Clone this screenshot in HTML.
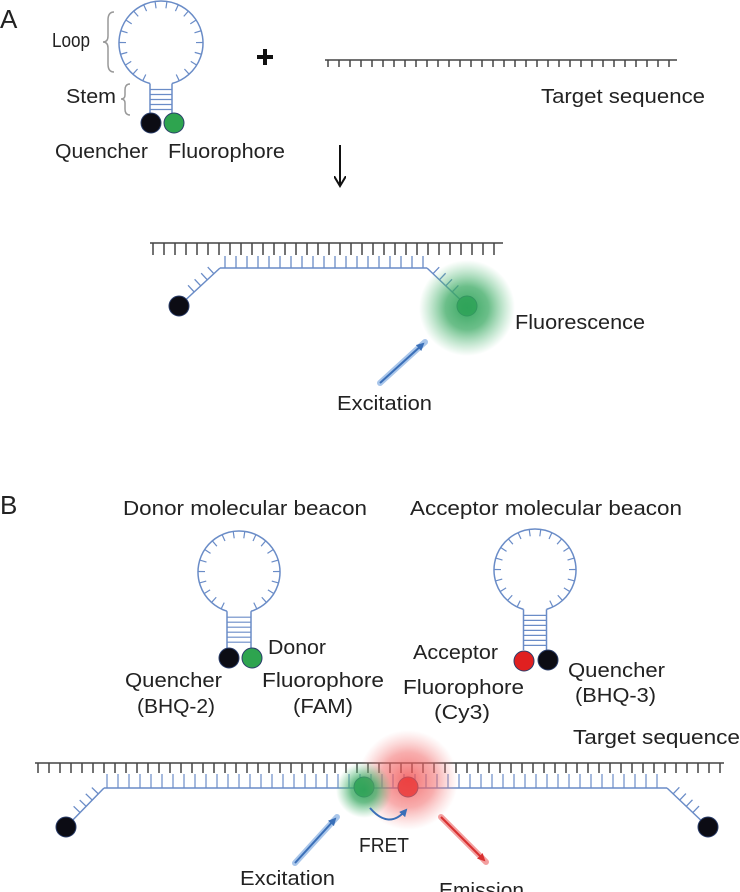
<!DOCTYPE html>
<html><head><meta charset="utf-8"><style>
html,body{margin:0;padding:0;background:#fff;}
svg{display:block;}
text{font-family:"Liberation Sans",sans-serif;fill:#222;font-size:20px;}
</style></head><body>
<svg id="s" width="740" height="892" viewBox="0 0 740 892" xmlns="http://www.w3.org/2000/svg">
<defs>
<radialGradient id="gg"><stop offset="0" stop-color="#2fa35a" stop-opacity="0.95"/><stop offset="0.45" stop-color="#3aa962" stop-opacity="0.75"/><stop offset="1" stop-color="#5cc07f" stop-opacity="0"/></radialGradient>
<radialGradient id="rg"><stop offset="0" stop-color="#f04a4a" stop-opacity="0.8"/><stop offset="0.55" stop-color="#f26a6a" stop-opacity="0.55"/><stop offset="1" stop-color="#f59090" stop-opacity="0"/></radialGradient>
<marker id="ab" markerWidth="8" markerHeight="8" refX="6" refY="4" orient="auto" markerUnits="userSpaceOnUse"><path d="M0,0 L8,4 L0,8 z" fill="#3a6fb8"/></marker>
<marker id="ar" markerWidth="8" markerHeight="8" refX="6" refY="4" orient="auto" markerUnits="userSpaceOnUse"><path d="M0,0 L8,4 L0,8 z" fill="#d83030"/></marker>
<marker id="ak" markerWidth="12" markerHeight="12" refX="10" refY="6" orient="auto" markerUnits="userSpaceOnUse"><path d="M0,0 L10,6 L0,12" fill="none" stroke="#111" stroke-width="2"/></marker>
</defs>
<g id="g"></g>

<circle cx="467" cy="308" r="48" fill="url(#gg)"/>
<circle cx="408" cy="780" r="50" fill="url(#rg)"/>
<circle cx="364" cy="790" r="28" fill="url(#gg)"/>

<text x="0" y="28" style="font-size:26px">A</text>
<text x="52" y="47" textLength="38" lengthAdjust="spacingAndGlyphs">Loop</text>
<text x="66" y="103" textLength="50" lengthAdjust="spacingAndGlyphs">Stem</text>
<path d="M114,12 Q108,12 108,20 L108,36 Q108,42 103,42 Q108,42 108,48 L108,64 Q108,72 114,72" fill="none" stroke="#999" stroke-width="1.5"/>
<path d="M130,84 Q125,84 125,90 L125,95 Q125,99 121,99 Q125,99 125,103 L125,109 Q125,115 130,115" fill="none" stroke="#999" stroke-width="1.5"/>
<text x="55" y="158" textLength="93" lengthAdjust="spacingAndGlyphs">Quencher</text>
<text x="168" y="158" textLength="117" lengthAdjust="spacingAndGlyphs">Fluorophore</text>
<line x1="257" y1="57" x2="273" y2="57" stroke="#111" stroke-width="4"/>
<line x1="265" y1="49" x2="265" y2="65" stroke="#111" stroke-width="4"/>
<text x="541" y="103" textLength="164" lengthAdjust="spacingAndGlyphs">Target sequence</text>
<line x1="340" y1="145" x2="340" y2="186" stroke="#111" stroke-width="2" marker-end="url(#ak)"/>
<text x="515" y="329" textLength="130" lengthAdjust="spacingAndGlyphs">Fluorescence</text>
<line x1="380" y1="383" x2="425" y2="342" stroke="#a9c6ea" stroke-width="6" stroke-linecap="round"/>
<line x1="380" y1="383" x2="423" y2="344" stroke="#3a6fb8" stroke-width="2" marker-end="url(#ab)"/>
<text x="337" y="410" textLength="95" lengthAdjust="spacingAndGlyphs">Excitation</text>

<text x="0" y="514" style="font-size:26px">B</text>
<text x="123" y="515" textLength="244" lengthAdjust="spacingAndGlyphs">Donor molecular beacon</text>
<text x="410" y="515" textLength="272" lengthAdjust="spacingAndGlyphs">Acceptor molecular beacon</text>
<text x="268" y="654" textLength="58" lengthAdjust="spacingAndGlyphs">Donor</text>
<text x="125" y="687" textLength="97" lengthAdjust="spacingAndGlyphs">Quencher</text>
<text x="137" y="713" textLength="78" lengthAdjust="spacingAndGlyphs">(BHQ-2)</text>
<text x="262" y="687" textLength="122" lengthAdjust="spacingAndGlyphs">Fluorophore</text>
<text x="293" y="713" textLength="60" lengthAdjust="spacingAndGlyphs">(FAM)</text>
<text x="413" y="659" textLength="85" lengthAdjust="spacingAndGlyphs">Acceptor</text>
<text x="403" y="694" textLength="121" lengthAdjust="spacingAndGlyphs">Fluorophore</text>
<text x="434" y="719" textLength="56" lengthAdjust="spacingAndGlyphs">(Cy3)</text>
<text x="568" y="677" textLength="97" lengthAdjust="spacingAndGlyphs">Quencher</text>
<text x="575" y="702" textLength="81" lengthAdjust="spacingAndGlyphs">(BHQ-3)</text>
<text x="573" y="744" textLength="167" lengthAdjust="spacingAndGlyphs">Target sequence</text>
<path d="M370,808 Q389,830 406,810" fill="none" stroke="#3a6fb8" stroke-width="2" marker-end="url(#ab)"/>
<text x="384" y="852" text-anchor="middle" textLength="50" lengthAdjust="spacingAndGlyphs">FRET</text>
<line x1="295" y1="863" x2="337" y2="817" stroke="#a9c6ea" stroke-width="6" stroke-linecap="round"/>
<line x1="295" y1="863" x2="335" y2="819" stroke="#3a6fb8" stroke-width="2" marker-end="url(#ab)"/>
<line x1="441" y1="817" x2="486" y2="862" stroke="#f3a0a0" stroke-width="6" stroke-linecap="round"/>
<line x1="441" y1="817" x2="484" y2="860" stroke="#d83030" stroke-width="2" marker-end="url(#ar)"/>
<text x="240" y="885" textLength="95" lengthAdjust="spacingAndGlyphs">Excitation</text>
<text x="439" y="897" textLength="85" lengthAdjust="spacingAndGlyphs">Emission</text>
</svg>
<script>
var g=document.getElementById('g'),NS="http://www.w3.org/2000/svg";
var B="#6a8cc7",K="#444";
function el(t,a){var e=document.createElementNS(NS,t);for(var k in a)e.setAttribute(k,a[k]);g.appendChild(e);return e;}
function ln(x1,y1,x2,y2,c,w){el('line',{x1:x1,y1:y1,x2:x2,y2:y2,stroke:c,'stroke-width':w||1.3});}
function strand(x1,x2,y,len,sp,c,dir){ln(x1,y,x2,y,c,1.5);for(var x=x1+3;x<=x2-1;x+=sp)ln(x,y,x,y+dir*len,c,1.5);}
function beacon(cx,cy,r,hw,stemEnd){
  var dy=Math.sqrt(r*r-hw*hw),yb=cy+dy;
  el('path',{d:'M'+(cx-hw)+','+yb+' A'+r+','+r+' 0 1 1 '+(cx+hw)+','+yb,fill:'none',stroke:B,'stroke-width':1.5});
  for(var i=0;i<20;i++){var a=Math.PI/2+0.45+i*(2*Math.PI-0.9)/19;
    var c=Math.cos(a),s=Math.sin(a);ln(cx+r*c,cy+r*s,cx+(r-7)*c,cy+(r-7)*s,B,1.2);}
  ln(cx-hw,yb,cx-hw,stemEnd,B,1.5);ln(cx+hw,yb,cx+hw,stemEnd,B,1.5);
  for(var y=yb+6;y<stemEnd-3;y+=5)ln(cx-hw,y,cx+hw,y,B,1.2);
}
function arm(x1,y1,x2,y2){
  ln(x1,y1,x2,y2,B,1.5);var dx=x2-x1,dy=y2-y1,L=Math.hypot(dx,dy);var nx=-dy/L,ny=dx/L;if(ny>0){nx=-nx;ny=-ny;}
  for(var t=0.15;t<0.75;t+=0.16){var px=x1+dx*t,py=y1+dy*t;ln(px,py,px+nx*9,py+ny*9,B,1.3);}
}
function dot(x,y,f){el('circle',{cx:x,cy:y,r:10,fill:f,stroke:'#2a3d6a','stroke-width':1});}
beacon(161,43,42,11,113);dot(151,123,'#0c0c14');dot(174,123,'#2ea44f');
strand(325,677,60,7,11,K,1);
strand(150,503,243,12,11,K,1);
ln(220,268,427,268,B,1.5);for(var x=225;x<=425;x+=11)ln(x,268,x,256,B,1.3);
arm(220,268,179,306);arm(427,268,467,306);
dot(179,306,'#0c0c14');dot(467,306,'#2ea44f');
beacon(239,572,41,12,648);dot(229,658,'#0c0c14');dot(252,658,'#2ea44f');
beacon(535,570,41,11.5,650);dot(524,661,'#e02020');dot(548,660,'#0c0c14');
strand(35,724,763,10,11,K,1);
ln(104,788,667,788,B,1.5);for(var x=107;x<=665;x+=11)ln(x,788,x,774,B,1.2);
arm(104,788,66,827);arm(667,788,708,827);
dot(66,827,'#0c0c14');dot(708,827,'#0c0c14');
dot(364,787,'#2ea44f');dot(408,787,'#e02020');
</script>
</body></html>
